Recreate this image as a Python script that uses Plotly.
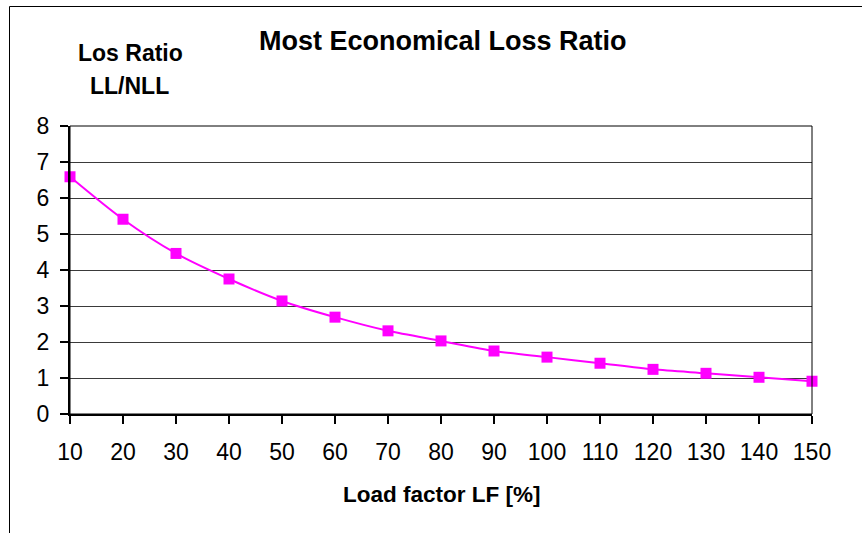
import plotly.graph_objects as go

load_factor = [10, 20, 30, 40, 50, 60, 70, 80, 90, 100, 110, 120, 130, 140, 150]
loss_ratio = [6.59, 5.41, 4.46, 3.75, 3.14, 2.69, 2.31, 2.03, 1.75, 1.58, 1.41, 1.24, 1.13, 1.02, 0.91]
y_ticks = [0, 1, 2, 3, 4, 5, 6, 7, 8]

W, H = 862, 533
L, R, T, B = 70, 50, 126, 119
PW, PH = W - L - R, H - T - B

def px_x(p):
    return (p - L) / PW

def px_y(p):
    return (H - B - p) / PH

FONT = "Arial, Liberation Sans, sans-serif"

fig = go.Figure()
fig.add_trace(go.Scatter(
    x=load_factor, y=loss_ratio, mode="lines+markers",
    line=dict(color="#FF00FF", width=2, shape="spline", smoothing=0.8),
    marker=dict(symbol="square", size=11, color="#FF00FF", line=dict(width=0)),
    cliponaxis=False, showlegend=False,
))

fig.update_layout(
    width=W, height=H,
    margin=dict(l=L, r=R, t=T, b=B, pad=0),
    paper_bgcolor="white", plot_bgcolor="white",
    font=dict(family=FONT, size=22, color="black"),
    xaxis=dict(
        range=[10, 150], tickmode="array", tickvals=load_factor,
        ticktext=[str(v) for v in load_factor],
        showgrid=False, zeroline=False,
        showline=True, linecolor="black", linewidth=2,
        ticks="outside", ticklen=8, tickwidth=2, tickcolor="black",
        ticklabelstandoff=8,
        tickfont=dict(size=23, family=FONT),
    ),
    yaxis=dict(
        range=[0, 8], tickmode="array", tickvals=y_ticks,
        showgrid=True, gridcolor="#3a3a3a", gridwidth=1, zeroline=False,
        showline=True, linecolor="black", linewidth=2,
        ticks="outside", ticklen=8, tickwidth=2, tickcolor="black",
        ticklabelstandoff=6,
        tickfont=dict(size=23, family=FONT),
    ),
    shapes=[
        dict(type="rect", xref="paper", yref="paper", x0=0, x1=1, y0=0, y1=1,
             line=dict(color="black", width=1), layer="above"),
        dict(type="rect", xref="paper", yref="paper",
             x0=px_x(9.5), x1=px_x(900), y0=px_y(600), y1=px_y(6.5),
             line=dict(color="black", width=1), layer="above"),
    ],
    annotations=[
        dict(text="<b>Most Economical Loss Ratio</b>", xref="paper", yref="paper",
             x=px_x(443), y=px_y(41), xanchor="center", yanchor="middle",
             showarrow=False, font=dict(size=27, family=FONT)),
        dict(text="<b>Los Ratio</b>", xref="paper", yref="paper",
             x=px_x(130), y=px_y(53), xanchor="center", yanchor="middle",
             showarrow=False, font=dict(size=23, family=FONT)),
        dict(text="<b>LL/NLL</b>", xref="paper", yref="paper",
             x=px_x(129), y=px_y(86), xanchor="center", yanchor="middle",
             showarrow=False, font=dict(size=23, family=FONT)),
        dict(text="<b>Load factor LF [%]</b>", xref="paper", yref="paper",
             x=px_x(442), y=px_y(494), xanchor="center", yanchor="middle",
             showarrow=False, font=dict(size=22.5, family=FONT)),
    ],
)

fig.write_html("out.html")
